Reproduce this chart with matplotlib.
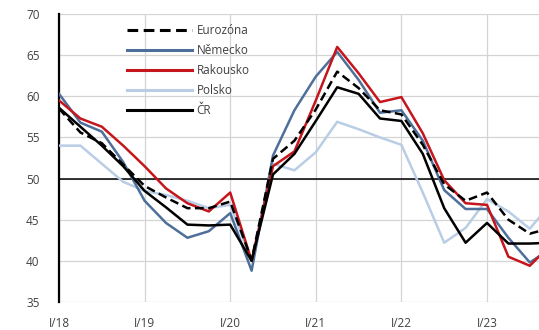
import matplotlib
matplotlib.use("Agg")
import matplotlib.pyplot as plt
import numpy as np

plt.rcParams['font.family'] = ['Open Sans', 'DejaVu Sans']

quarters = ["I/18", "II/18", "III/18", "IV/18", "I/19", "II/19", "III/19", "IV/19",
            "I/20", "II/20", "III/20", "IV/20", "I/21", "II/21", "III/21", "IV/21",
            "I/22", "II/22", "III/22", "IV/22", "I/23", "II/23", "III/23", "IV/23"]

eurozona = [58.5, 55.6, 54.3, 51.7, 49.1, 47.7, 46.4, 46.4, 47.2, 40.1, 52.4, 54.6,
            58.4, 63.0, 61.0, 58.3, 57.8, 54.1, 49.3, 47.3, 48.3, 45.0, 43.3, 44.0]
nemecko = [60.3, 56.8, 55.7, 52.0, 47.3, 44.6, 42.8, 43.6, 45.8, 38.8, 52.8, 58.3,
           62.4, 65.4, 62.0, 58.0, 58.3, 54.6, 48.6, 46.3, 46.3, 42.8, 39.8, 41.5]
rakousko = [59.5, 57.3, 56.3, 54.0, 51.5, 48.8, 47.0, 46.0, 48.3, 40.0, 51.5, 53.3,
            59.5, 66.0, 62.8, 59.3, 59.9, 55.5, 49.8, 47.0, 46.8, 40.5, 39.4, 42.0]
polsko = [54.0, 54.0, 51.8, 49.6, 48.5, 48.0, 47.3, 46.4, 46.8, 40.0, 51.8, 51.0,
          53.2, 56.9, 56.0, 55.0, 54.1, 48.3, 42.2, 44.0, 47.5, 46.0, 43.9, 47.0]
cr = [58.6, 56.3, 54.0, 51.5, 48.5, 46.5, 44.4, 44.3, 44.4, 40.0, 50.5, 53.0,
      57.0, 61.1, 60.3, 57.3, 57.0, 53.0, 46.4, 42.2, 44.6, 42.1, 42.1, 42.2]

year_ticks = ["I/18", "I/19", "I/20", "I/21", "I/22", "I/23"]

fig = plt.figure(figsize=(5.39, 3.30), dpi=100)
ax = fig.add_axes([0.1095, 0.085, 0.8905, 0.8725])

x = np.arange(len(quarters))
lw = 1.8
ax.plot(x, eurozona, color='black', lw=lw, ls=(0, (3.5, 1.8)), label='Eurozóna', zorder=6)
ax.plot(x, nemecko, color='#4E6F9A', lw=lw, label='Německo', zorder=4)
ax.plot(x, rakousko, color='#C4161C', lw=lw, label='Rakousko', zorder=5)
ax.plot(x, polsko, color='#B9CDE5', lw=lw, label='Polsko', zorder=3)
ax.plot(x, cr, color='black', lw=lw, label='ČR', zorder=5.5)

ax.axhline(50, color='black', lw=1.1, zorder=2)

ax.set_ylim(35, 70)
ax.set_yticks(np.arange(35, 71, 5))
ax.set_xlim(0, 22.43)
tick_pos = [quarters.index(t) for t in year_ticks]
ax.set_xticks(tick_pos)
ax.set_xticklabels(year_ticks)

ax.grid(True, color='#D4D4D4', lw=0.9, zorder=0)
ax.set_axisbelow(True)
for s in ['top', 'right', 'bottom']:
    ax.spines[s].set_visible(False)
ax.spines['left'].set_linewidth(1.6)
ax.spines['left'].set_color('black')
ax.tick_params(axis='both', length=0, labelsize=8.5, colors='#404040')
ax.tick_params(axis='y', pad=14)
ax.tick_params(axis='x', pad=11)

leg = ax.legend(loc='upper left', bbox_to_anchor=(0.1417, 0.965), frameon=False,
                fontsize=8.5, handlelength=5.5, handletextpad=0.4,
                labelspacing=0.6, borderpad=0, borderaxespad=0)
for t in leg.get_texts():
    t.set_color('#404040')
for h in leg.get_lines():
    h.set_linewidth(2.2)

fig.savefig('out.png', dpi=100)
